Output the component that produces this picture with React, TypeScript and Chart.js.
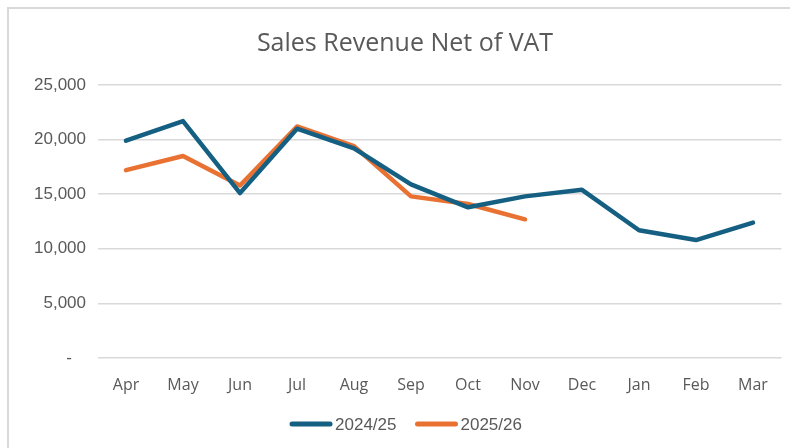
import React, { useEffect, useRef } from "react";
import { Chart, registerables } from "chart.js";

Chart.register(...registerables);

const months = ["Apr", "May", "Jun", "Jul", "Aug", "Sep", "Oct", "Nov", "Dec", "Jan", "Feb", "Mar"];
const series2024 = [19900, 21700, 15100, 21000, 19200, 15900, 13800, 14800, 15400, 11700, 10800, 12400];
const series2025 = [17200, 18500, 15800, 21200, 19400, 14800, 14100, 12700];
const seriesLabels = ["2024/25", "2025/26"];
const seriesColors = ["#156082", "#E97132"];
const yTicks = [0, 5000, 10000, 15000, 20000, 25000];
const titleText = "Sales Revenue Net of VAT";

const TEXT = "#595959";
const GRID = "#d9d9d9";

const framePlugin = {
  id: "frame",
  beforeDraw(chart: any) {
    const ctx = chart.ctx;
    ctx.save();
    ctx.fillStyle = "#ffffff";
    ctx.fillRect(0, 0, chart.width, chart.height);
    ctx.strokeStyle = GRID;
    ctx.lineWidth = 2;
    ctx.beginPath();
    ctx.moveTo(8, chart.height);
    ctx.lineTo(8, 8);
    ctx.lineTo(chart.width, 8);
    ctx.stroke();
    ctx.restore();
  },
};

const legendPlugin = {
  id: "customLegend",
  afterDraw(chart: any) {
    const ctx = chart.ctx;
    const y = 424;
    const seg = 42;
    const gap = 3;
    const between = 19;
    ctx.save();
    ctx.font = "17px 'Liberation Sans', Arial, sans-serif";
    ctx.textBaseline = "middle";
    ctx.textAlign = "left";
    const items = chart.data.datasets.map((d: any) => ({
      text: d.label,
      color: d.borderColor,
      w: ctx.measureText(d.label).width,
    }));
    const total = items.reduce((s: number, it: any) => s + seg + gap + it.w, 0) + between * (items.length - 1);
    let x = 406 - total / 2;
    items.forEach((it: any) => {
      ctx.strokeStyle = it.color;
      ctx.lineWidth = 5;
      ctx.lineCap = "round";
      ctx.beginPath();
      ctx.moveTo(x + 2, y);
      ctx.lineTo(x + seg - 2, y);
      ctx.stroke();
      ctx.fillStyle = TEXT;
      ctx.fillText(it.text, x + seg + gap, y + 1);
      x += seg + gap + it.w + between;
    });
    ctx.restore();
  },
};

export default function App() {
  const ref = useRef<HTMLCanvasElement | null>(null);

  useEffect(() => {
    if (!ref.current) return;
    const chart = new Chart(ref.current, {
      type: "line",
      data: {
        labels: months,
        datasets: [
          {
            label: seriesLabels[0],
            data: series2024,
            borderColor: seriesColors[0],
            backgroundColor: seriesColors[0],
            borderWidth: 4.5,
            pointRadius: 0,
            borderCapStyle: "round",
            borderJoinStyle: "round",
            tension: 0,
          },
          {
            label: seriesLabels[1],
            data: series2025,
            borderColor: seriesColors[1],
            backgroundColor: seriesColors[1],
            borderWidth: 4.5,
            pointRadius: 0,
            borderCapStyle: "round",
            borderJoinStyle: "round",
            tension: 0,
          },
        ],
      },
      options: {
        animation: false,
        responsive: false,
        maintainAspectRatio: false,
        layout: { padding: { left: 28.5, right: 8.5, top: 0, bottom: 0 } },
        plugins: {
          legend: { display: false },
          tooltip: { enabled: false },
          title: {
            display: true,
            text: titleText,
            color: TEXT,
            font: { family: "'Open Sans', sans-serif", size: 25, weight: "normal" },
            padding: { top: 29, bottom: 26 },
          },
        },
        scales: {
          x: {
            offset: true,
            grid: { display: false, offset: true },
            border: { display: false },
            ticks: {
              color: TEXT,
              padding: 10,
              font: { family: "'Open Sans', sans-serif", size: 16 },
              maxRotation: 0,
            },
            afterFit: (s: any) => {
              s.height = 90;
            },
          },
          y: {
            min: 0,
            max: 25000,
            afterBuildTicks: (s: any) => {
              s.ticks = yTicks.map((v) => ({ value: v }));
            },
            grid: { color: GRID, lineWidth: 1.5, drawTicks: false },
            border: { display: false },
            ticks: {
              color: TEXT,
              padding: 11.5,
              font: { family: "'Liberation Sans', Arial, sans-serif", size: 17 },
              callback: (v: any) => (Number(v) === 0 ? "-   " : Number(v).toLocaleString("en-US")),
            },
            afterFit: (s: any) => {
              s.width = 69;
            },
          },
        },
      },
      plugins: [framePlugin, legendPlugin],
    });
    return () => chart.destroy();
  }, []);

  return (
    <canvas
      ref={ref}
      width={790}
      height={448}
      style={{ position: "fixed", left: 0, top: 0, width: 790, height: 448 }}
    />
  );
}
